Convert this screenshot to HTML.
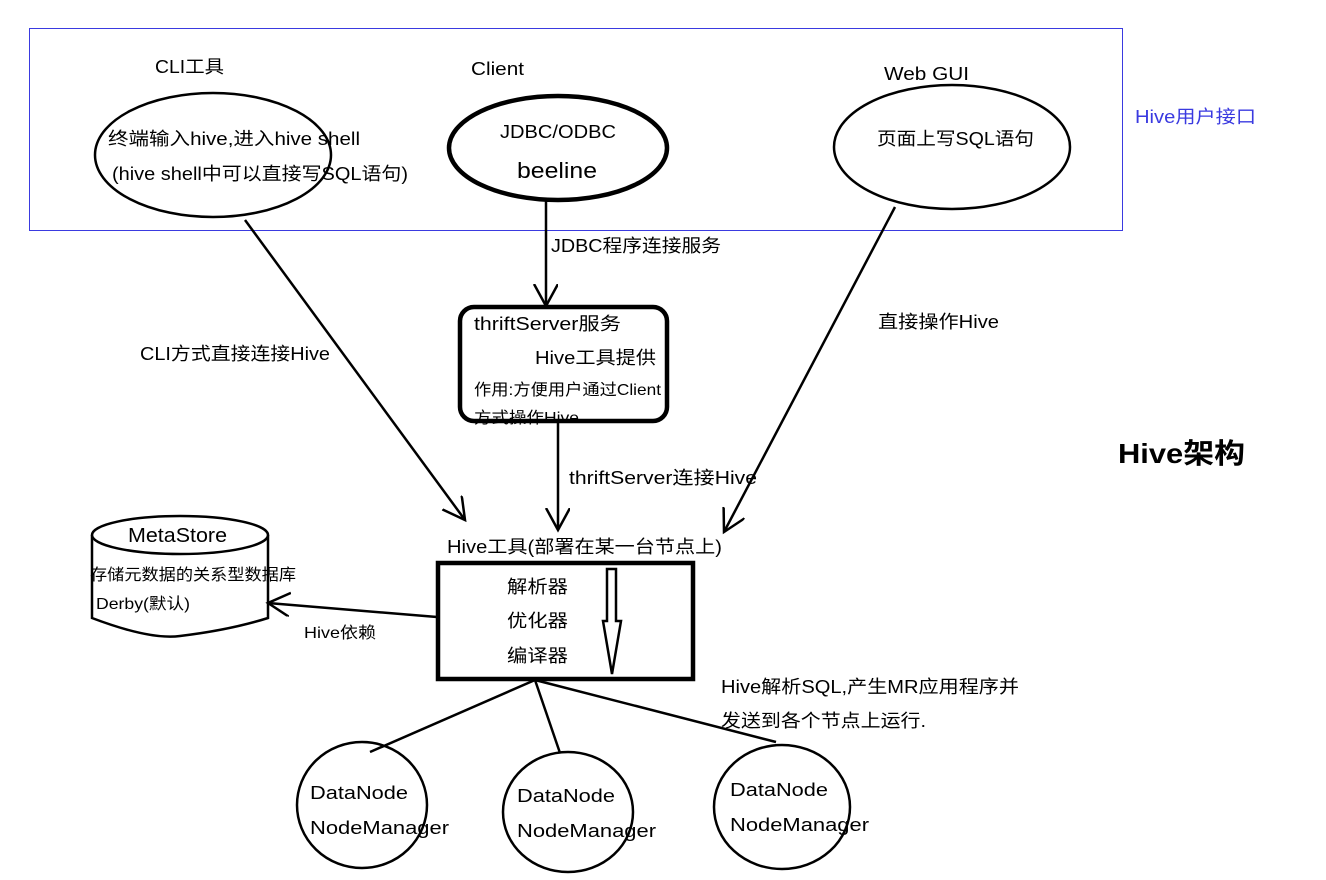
<!DOCTYPE html>
<html><head><meta charset="utf-8"><style>
html,body{margin:0;padding:0;background:#fff;width:1326px;height:880px;overflow:hidden}
text{font-family:"Liberation Sans","Noto Sans CJK SC",sans-serif;font-size:18px;fill:#000}
</style></head><body>
<svg width="1326" height="880" viewBox="0 0 1326 880" xmlns="http://www.w3.org/2000/svg">
<defs>
<marker id="a" markerWidth="30" markerHeight="30" refX="22" refY="12" orient="auto" markerUnits="userSpaceOnUse">
<path d="M0,0 L22,12 L0,24" fill="none" stroke="#000" stroke-width="2.5"/>
</marker>
</defs>
<rect x="29.5" y="28.5" width="1093" height="202" fill="none" stroke="#3a3ae0" stroke-width="1"/>
<text x="1135" y="123" style="fill:#3a3ae0" textLength="121" lengthAdjust="spacingAndGlyphs">Hive用户接口</text>

<text x="155" y="73" textLength="69" lengthAdjust="spacingAndGlyphs">CLI工具</text>
<text x="471" y="75" textLength="53" lengthAdjust="spacingAndGlyphs">Client</text>
<text x="884" y="80" textLength="85" lengthAdjust="spacingAndGlyphs">Web GUI</text>

<ellipse cx="213" cy="155" rx="118" ry="62" fill="none" stroke="#000" stroke-width="2.5"/>
<text x="108" y="145" textLength="252" lengthAdjust="spacingAndGlyphs">终端输入hive,进入hive shell</text>
<text x="112" y="180" textLength="296" lengthAdjust="spacingAndGlyphs">(hive shell中可以直接写SQL语句)</text>

<ellipse cx="558" cy="148" rx="109" ry="52" fill="none" stroke="#000" stroke-width="4.5"/>
<text x="500" y="138" textLength="116" lengthAdjust="spacingAndGlyphs">JDBC/ODBC</text>
<text x="517" y="178" style="font-size:22px" textLength="80" lengthAdjust="spacingAndGlyphs">beeline</text>

<ellipse cx="952" cy="147" rx="118" ry="62" fill="none" stroke="#000" stroke-width="2.5"/>
<text x="877" y="145" textLength="157" lengthAdjust="spacingAndGlyphs">页面上写SQL语句</text>

<line x1="546" y1="200" x2="546" y2="306" stroke="#000" stroke-width="2.5" marker-end="url(#a)"/>
<text x="551" y="252" textLength="170" lengthAdjust="spacingAndGlyphs">JDBC程序连接服务</text>

<text x="474" y="330" textLength="147" lengthAdjust="spacingAndGlyphs">thriftServer服务</text>
<text x="535" y="364" textLength="121" lengthAdjust="spacingAndGlyphs">Hive工具提供</text>
<text x="474" y="395" style="font-size:16px" textLength="187" lengthAdjust="spacingAndGlyphs">作用:方便用户通过Client</text>
<text x="474" y="423" style="font-size:16px" textLength="105" lengthAdjust="spacingAndGlyphs">方式操作Hive</text>
<rect x="460" y="307" width="207" height="114" rx="14" fill="none" stroke="#000" stroke-width="4.5"/>

<line x1="245" y1="220" x2="465" y2="520" stroke="#000" stroke-width="2.5" marker-end="url(#a)"/>
<text x="140" y="360" textLength="190" lengthAdjust="spacingAndGlyphs">CLI方式直接连接Hive</text>

<line x1="895" y1="207" x2="724" y2="532" stroke="#000" stroke-width="2.5" marker-end="url(#a)"/>
<text x="878" y="328" textLength="121" lengthAdjust="spacingAndGlyphs">直接操作Hive</text>

<line x1="558" y1="422" x2="558" y2="530" stroke="#000" stroke-width="2.5" marker-end="url(#a)"/>
<text x="569" y="484" textLength="188" lengthAdjust="spacingAndGlyphs">thriftServer连接Hive</text>

<text x="1118" y="463" style="font-size:28px;font-weight:bold" textLength="127" lengthAdjust="spacingAndGlyphs">Hive架构</text>

<text x="447" y="553" textLength="275" lengthAdjust="spacingAndGlyphs">Hive工具(部署在某一台节点上)</text>
<rect x="438" y="563" width="255" height="116" fill="none" stroke="#000" stroke-width="4.5"/>
<text x="507" y="593" textLength="61" lengthAdjust="spacingAndGlyphs">解析器</text>
<text x="507" y="627" textLength="61" lengthAdjust="spacingAndGlyphs">优化器</text>
<text x="507" y="662" textLength="61" lengthAdjust="spacingAndGlyphs">编译器</text>
<path d="M607,569 L616,569 L616,621 L621,621 L612,674 L603,621 L607,621 Z" fill="none" stroke="#000" stroke-width="2.5"/>

<path d="M92,535 L92,618 Q150,640 180,636 Q230,630 268,618 L268,535" fill="#fff" stroke="#000" stroke-width="2.5"/>
<ellipse cx="180" cy="535" rx="88" ry="19" fill="#fff" stroke="#000" stroke-width="2.5"/>
<text x="128" y="542" style="font-size:20px" textLength="99" lengthAdjust="spacingAndGlyphs">MetaStore</text>
<text x="90" y="580" style="font-size:16px" textLength="206" lengthAdjust="spacingAndGlyphs">存储元数据的关系型数据库</text>
<text x="96" y="609" style="font-size:16px" textLength="94" lengthAdjust="spacingAndGlyphs">Derby(默认)</text>

<line x1="437" y1="617" x2="268" y2="603" stroke="#000" stroke-width="2.5" marker-end="url(#a)"/>
<text x="304" y="638" style="font-size:16px" textLength="72" lengthAdjust="spacingAndGlyphs">Hive依赖</text>

<line x1="535" y1="680" x2="370" y2="752" stroke="#000" stroke-width="2.5"/>
<line x1="535" y1="680" x2="560" y2="753" stroke="#000" stroke-width="2.5"/>
<line x1="535" y1="680" x2="776" y2="742" stroke="#000" stroke-width="2.5"/>
<text x="721" y="693" textLength="298" lengthAdjust="spacingAndGlyphs">Hive解析SQL,产生MR应用程序并</text>
<text x="721" y="727" textLength="205" lengthAdjust="spacingAndGlyphs">发送到各个节点上运行.</text>

<ellipse cx="362" cy="805" rx="65" ry="63" fill="none" stroke="#000" stroke-width="2.5"/>
<text x="310" y="799" textLength="98" lengthAdjust="spacingAndGlyphs">DataNode</text>
<text x="310" y="834" textLength="139" lengthAdjust="spacingAndGlyphs">NodeManager</text>
<ellipse cx="568" cy="812" rx="65" ry="60" fill="none" stroke="#000" stroke-width="2.5"/>
<text x="517" y="802" textLength="98" lengthAdjust="spacingAndGlyphs">DataNode</text>
<text x="517" y="837" textLength="139" lengthAdjust="spacingAndGlyphs">NodeManager</text>
<ellipse cx="782" cy="807" rx="68" ry="62" fill="none" stroke="#000" stroke-width="2.5"/>
<text x="730" y="796" textLength="98" lengthAdjust="spacingAndGlyphs">DataNode</text>
<text x="730" y="831" textLength="139" lengthAdjust="spacingAndGlyphs">NodeManager</text>
</svg>
</body></html>
